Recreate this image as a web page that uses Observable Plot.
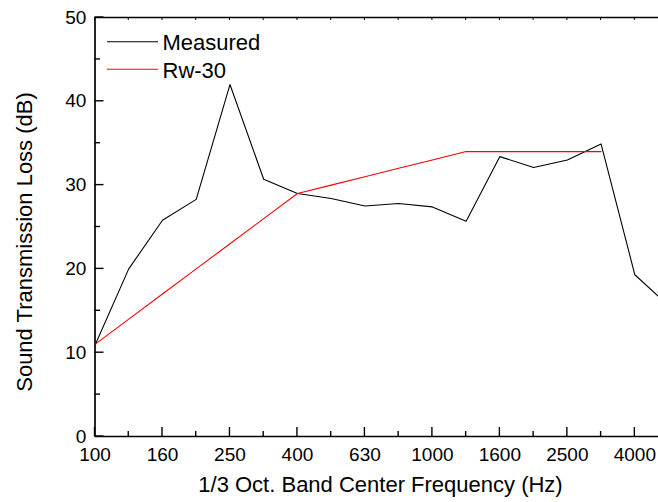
<!DOCTYPE html>
<html><head><meta charset="utf-8">
<script src="https://cdn.jsdelivr.net/npm/d3@7"></script>
<script src="https://cdn.jsdelivr.net/npm/@observablehq/plot@0.6"></script>
<style>html,body{margin:0;padding:0;background:#fff;overflow:hidden} svg{display:block}</style>
</head><body><div id="chart"></div>
<script>
// 1/3 octave band centre frequencies (Hz)
const bands = ["100","125","160","200","250","315","400","500","630","800","1000","1250","1600","2000","2500","3150","4000","5000"];
// Measured sound transmission loss (dB)
const measured = [10.9,20.0,25.8,28.3,42.0,30.7,29.0,28.4,27.5,27.8,27.4,25.7,33.4,32.1,33.0,34.9,19.3,15.6];
// Reference curve Rw-30 (dB), 100..3150 Hz
const rw30 = [11,14,17,20,23,26,29,30,31,32,33,34,34,34,34,34];
const yMajor = [0,10,20,30,40,50];
const yMinor = [5,15,25,35,45];
const seriesNames = ["Measured","Rw-30"];
const xTitle = "1/3 Oct. Band Center Frequency (Hz)";
const yTitle = "Sound Transmission Loss (dB)";

const FONT = "Arial, 'Liberation Sans', Helvetica, sans-serif";
const W = 658, H = 502, mL = 94.5, mT = 17, mB = 66;
const step = 33.74;             // px per band
const xMax = (W - mL) / step;   // visible part of the band axis

const measData = measured.map((v, i) => ({i, v}));
const rwData = rw30.map((v, i) => ({i, v}));
const allIdx = bands.map((b, i) => i).filter(i => i <= xMax);
const xMajorIdx = allIdx.filter(i => i % 2 === 0);
const xMinorIdx = allIdx.filter(i => i % 2 === 1);

const svg = Plot.plot({
  width: W, height: H,
  marginLeft: mL, marginRight: 0, marginTop: mT, marginBottom: mB,
  x: {domain: [0, xMax]},
  y: {domain: [0, 50]},
  style: {fontFamily: FONT, fontSize: "19px", color: "#000", background: "#fff", overflow: "hidden"},
  marks: [
    Plot.axisX(xMajorIdx, {tickSize: 0, tickPadding: 11, tickFormat: i => bands[i], label: null, fontSize: 19}),
    Plot.axisY(yMajor, {tickSize: 0, tickPadding: 8.7, label: null, fontSize: 19}),
    Plot.ruleX([0], {stroke: "#000", strokeWidth: 1.7}),
    Plot.ruleY([0], {stroke: "#000", strokeWidth: 1.7}),
    Plot.ruleY([50], {stroke: "#000", strokeWidth: 1.7}),
    Plot.line(measData, {x: "i", y: "v", stroke: "#000", strokeWidth: 1.1, clip: true}),
    Plot.line(rwData, {x: "i", y: "v", stroke: "#ff0000", strokeWidth: 1.1, clip: true})
  ]
});

const sx = svg.scale("x"), sy = svg.scale("y");
const s = d3.select(svg);
const y0 = sy.apply(0), yTop = sy.apply(50), x0 = sx.apply(0);
const tk = s.append("g");
function seg(x1, y1, x2, y2, w) {
  tk.append("line").attr("x1", x1).attr("y1", y1).attr("x2", x2).attr("y2", y2)
    .attr("stroke", "#000").attr("stroke-width", w).attr("fill", "none");
}
// inward ticks on bottom axis
xMajorIdx.forEach(i => seg(sx.apply(i), y0, sx.apply(i), y0 - 9, 1.4));
xMinorIdx.forEach(i => seg(sx.apply(i), y0, sx.apply(i), y0 - 5, 1.4));
// small ticks on top line
allIdx.forEach(i => seg(sx.apply(i), yTop, sx.apply(i), yTop + 3, 1));
// inward ticks on left axis
yMajor.forEach(v => seg(x0, sy.apply(v), x0 + 9, sy.apply(v), 1.4));
yMinor.forEach(v => seg(x0, sy.apply(v), x0 + 5.5, sy.apply(v), 1.4));

const g = s.append("g").attr("font-family", FONT).attr("fill", "#000").attr("text-anchor", "start");
// legend
[[seriesNames[0], "#000", 50], [seriesNames[1], "#ff0000", 77.5]].forEach(([t, c, b]) => {
  g.append("line").attr("x1", 107).attr("x2", 158).attr("y1", b - 8.3).attr("y2", b - 8.3)
    .attr("stroke", c).attr("stroke-width", 1.1);
  g.append("text").attr("x", 162.5).attr("y", b).attr("font-size", 22).attr("text-anchor", "start").text(t);
});
// axis titles
g.append("text").attr("x", 380.5).attr("y", 491.5).attr("text-anchor", "middle")
  .attr("font-size", 22).text(xTitle);
g.append("text").attr("transform", "translate(32.3,242) rotate(-90)").attr("text-anchor", "middle")
  .attr("font-size", 22).text(yTitle);

document.getElementById("chart").appendChild(svg);
</script>
</body></html>
